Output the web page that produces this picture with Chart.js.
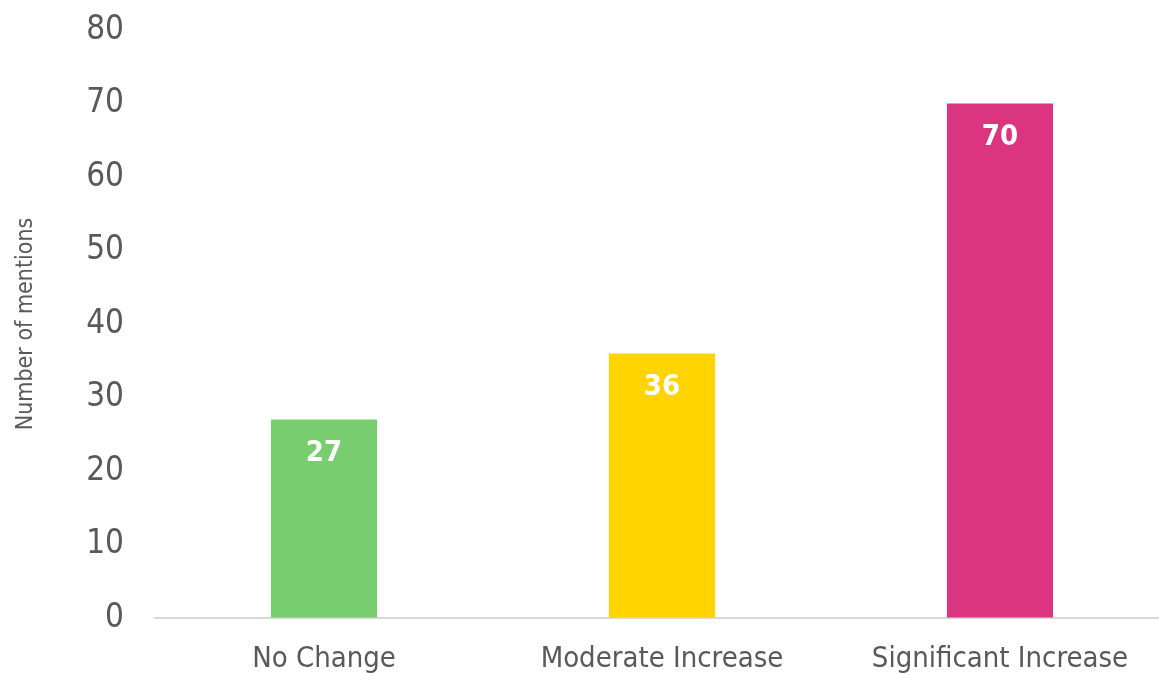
<!DOCTYPE html>
<html>
<head>
<meta charset="utf-8">
<script src="https://cdn.jsdelivr.net/npm/chart.js@4.4.1/dist/chart.umd.min.js"></script>
<style>
  html, body { margin: 0; padding: 0; background: #fff; overflow: hidden; }
  #wrap { width: 1175px; height: 673px; position: relative; }
</style>
</head>
<body>
<div id="wrap"><canvas id="chart"></canvas></div>
<script>
// Mentions par catégorie
var categories = ['No Change', 'Moderate Increase', 'Significant Increase'];
var mentions = [27, 36, 70];
var barColors = ['#78CD6E', '#FFD400', '#DB3580'];
var yMin = 0, yMax = 80, yStep = 10;

var FONT = '"DejaVu Sans Condensed", "DejaVu Sans", sans-serif';
var GREY = '#595959';

// valeurs en blanc, en haut de chaque barre
var valueLabels = {
    id: 'valueLabels',
    afterDatasetsDraw: function(chart) {
        var ctx = chart.ctx;
        var meta = chart.getDatasetMeta(0);
        ctx.save();
        ctx.fillStyle = '#ffffff';
        ctx.font = 'bold 29px ' + FONT;
        ctx.textAlign = 'center';
        ctx.textBaseline = 'middle';
        meta.data.forEach(function(bar, i) {
            ctx.fillText(String(chart.data.datasets[0].data[i]), bar.x, bar.y + 34);
        });
        ctx.restore();
    }
};

new Chart(document.getElementById('chart'), {
    type: 'bar',
    data: {
        labels: categories,
        datasets: [{
            data: mentions,
            backgroundColor: barColors,
            borderWidth: 0,
            categoryPercentage: 1,
            barPercentage: 0.314
        }]
    },
    options: {
        responsive: true,
        maintainAspectRatio: false,
        animation: false,
        layout: { padding: { top: 30, right: 6, left: 0, bottom: 0 } },
        plugins: {
            legend: { display: false },
            tooltip: { enabled: false }
        },
        scales: {
            y: {
                min: yMin,
                max: yMax,
                ticks: {
                    stepSize: yStep,
                    padding: 0,
                    color: GREY,
                    font: { family: FONT, size: 33 }
                },
                // tick marks invisibles : ils servent seulement d'écart avec les libellés
                grid: {
                    color: 'rgba(0,0,0,0)',
                    drawOnChartArea: false,
                    drawTicks: true,
                    tickLength: 31
                },
                border: { display: false },
                title: {
                    display: true,
                    text: 'Number of mentions',
                    color: GREY,
                    font: { family: FONT, size: 23 },
                    padding: { top: 12, bottom: 0 }
                },
                afterFit: function(scale) { scale.width = 155; }
            },
            x: {
                ticks: {
                    padding: 24,
                    color: GREY,
                    font: { family: FONT, size: 29 },
                    maxRotation: 0
                },
                grid: { display: false, drawTicks: false },
                border: { display: true, color: '#D9D9D9', width: 2 },
                afterFit: function(scale) { scale.height = 55; }
            }
        }
    },
    plugins: [valueLabels]
});
</script>
</body>
</html>
